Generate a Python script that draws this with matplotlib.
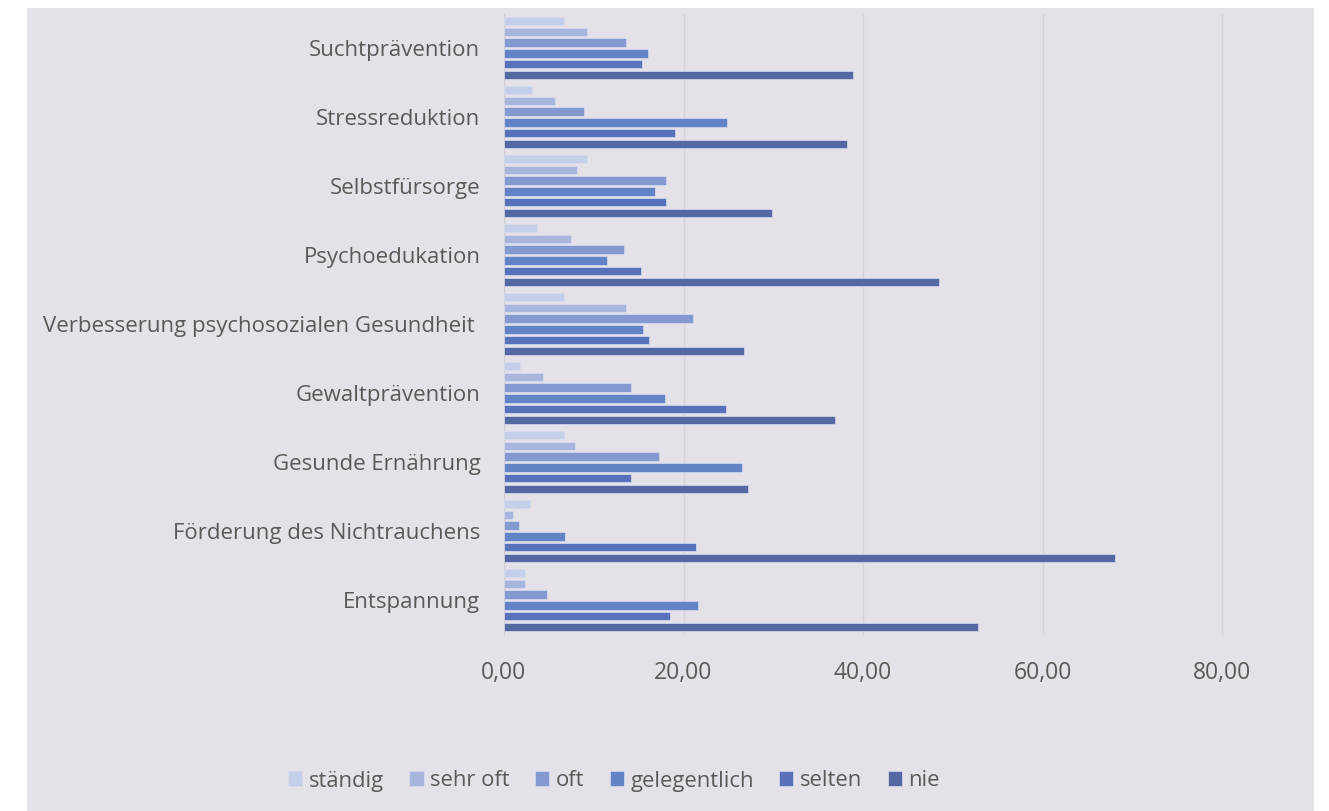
import numpy as np
import matplotlib
matplotlib.use("Agg")
import matplotlib.pyplot as plt
from matplotlib.patches import Rectangle
from matplotlib.ticker import FixedLocator

plt.rcParams['font.family'] = ['Open Sans', 'DejaVu Sans']

# Kategorien von unten nach oben
categories = ['Entspannung', 'Förderung des Nichtrauchens', 'Gesunde Ernährung',
              'Gewaltprävention', 'Verbesserung psychosozialen Gesundheit ',
              'Psychoedukation', 'Selbstfürsorge', 'Stressreduktion', 'Suchtprävention']
series = ['ständig', 'sehr oft', 'oft', 'gelegentlich', 'selten', 'nie']

staendig     = [2.3, 2.9, 6.7, 1.8, 6.7, 3.7, 9.3, 3.1, 6.7]
sehr_oft     = [2.3, 1.0, 7.9, 4.3, 13.6, 7.5, 8.1, 5.7, 9.3]
oft          = [4.8, 1.7, 17.3, 14.2, 21.1, 13.4, 18.0, 8.9, 13.6]
gelegentlich = [21.6, 6.8, 26.5, 17.9, 15.5, 11.5, 16.8, 24.8, 16.0]
selten       = [18.5, 21.4, 14.2, 24.7, 16.1, 15.3, 18.0, 19.1, 15.4]
nie          = [52.8, 68.1, 27.2, 36.9, 26.7, 48.4, 29.8, 38.2, 38.9]
values = [staendig, sehr_oft, oft, gelegentlich, selten, nie]

colors = ['#C4CFEA', '#A8B6DE', '#8399D0', '#6283C6', '#5772BA', '#5468A4']
text_col = '#595959'

fig = plt.figure(figsize=(13.29, 8.11), dpi=100)
fig.patches.append(Rectangle((27 / 1329, 0), (1314 - 27) / 1329, (811 - 8) / 811,
                             transform=fig.transFigure, facecolor='#E4E2E8',
                             edgecolor='none', zorder=-10))

ax = fig.add_axes([504 / 1329, (811 - 634.5) / 811, (1312 - 504) / 1329, 621 / 811])
ax.set_facecolor('none')

y = np.arange(len(categories))
pitch = 0.156
for j, (name, vals) in enumerate(zip(series, values)):
    offset = (2.5 - j) * pitch
    ax.barh(y + offset, vals, height=0.124, color=colors[j], label=name,
            edgecolor='#D8DDEE', linewidth=0.5, zorder=3)

ax.set_xlim(0, 90)
ax.set_ylim(-0.5, len(categories) - 0.5)
ax.xaxis.set_major_locator(FixedLocator([0, 20, 40, 60, 80]))
ax.set_xticklabels([f'{v:.2f}'.replace('.', ',') for v in [0, 20, 40, 60, 80]])
ax.set_yticks(y)
ax.set_yticklabels(categories)
ax.grid(axis='x', color='#D6D4D8', linewidth=1, zorder=0)
for s in ['top', 'right', 'bottom']:
    ax.spines[s].set_visible(False)
ax.spines['left'].set_color('#D0CED2')
ax.tick_params(axis='both', length=0, colors=text_col)
ax.tick_params(axis='y', pad=17, labelsize=16)
ax.tick_params(axis='x', pad=19, labelsize=16.5)

fig.legend(loc='center', bbox_to_anchor=(614 / 1329, 30 / 811), ncol=6,
           frameon=False, fontsize=15.8, labelcolor=text_col, handlelength=0.65,
           handleheight=0.65, handletextpad=0.3, columnspacing=1.15)

fig.savefig('out.png', dpi=100, facecolor='white')
